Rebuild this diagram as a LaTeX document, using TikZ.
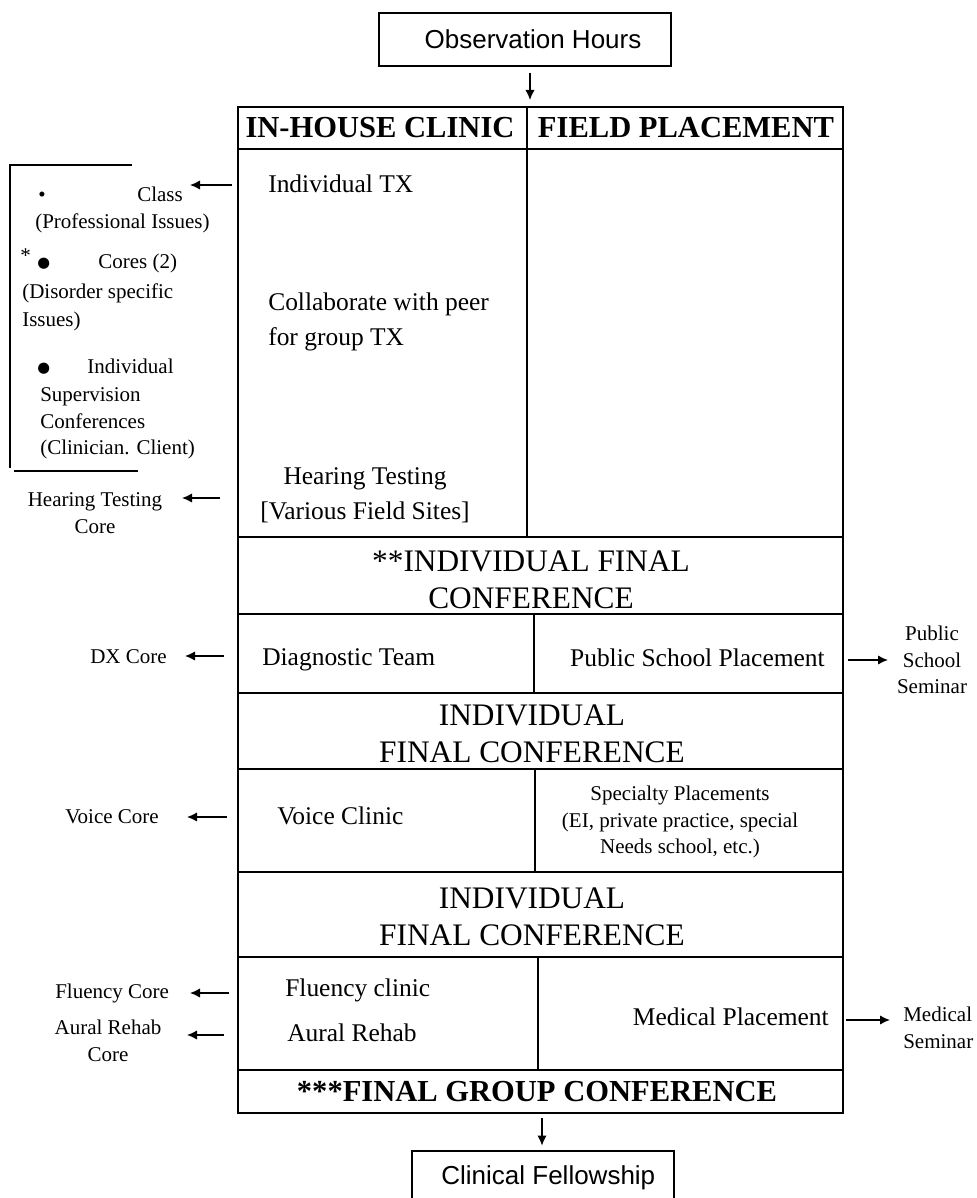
\documentclass[tikz,border=0pt]{standalone}
\usepackage{fontspec}
\setmainfont{Liberation Serif}
\newfontfamily\arialf{Liberation Sans}
\newfontfamily\dejavuf{DejaVu Sans}
\usetikzlibrary{arrows.meta}
\newcommand{\fsmall}{\fontsize{15.75pt}{19.9pt}\selectfont}
\newcommand{\fcell}{\fontsize{19.1pt}{26.25pt}\selectfont}
\newcommand{\fhead}{\fontsize{22.9pt}{27.75pt}\selectfont\bfseries}
\newcommand{\fconf}{\fontsize{23.5pt}{27.75pt}\selectfont}
\newcommand{\fsans}{\arialf\fontsize{19.5pt}{23pt}\selectfont}
\begin{document}
\begin{tikzpicture}[x=0.75pt,y=-0.75pt,
  tline/.style={line width=1.3pt},
  bline/.style={line width=1.1pt},
  arr/.style={line width=1.1pt,-{Latex[length=7.5pt,width=7pt]}},
  lbl/.style={inner sep=0pt},
  small/.style={lbl,font=\fsmall},
  cell/.style={lbl,font=\fcell},
  head/.style={lbl,font=\fhead,align=center},
  conf/.style={lbl,font=\fconf,align=center},
  sbox/.style={draw,line width=1.1pt,inner sep=0pt,font=\fsans}]
\useasboundingbox (0,0) rectangle (976,1198);

% top and bottom boxes
\node[sbox,minimum width=219pt,minimum height=39.75pt] (obs) at (525,39.5) {\hspace*{12pt}Observation Hours};
\node[sbox,minimum width=196.5pt,minimum height=40.5pt] (clin) at (543,1178) {\hspace*{8pt}Clinical Fellowship};

% table
\coordinate (ttop) at (530,107);
\coordinate (tbot) at (542,1113);
\draw[tline] (238,107) rectangle (843,1113);
\draw[tline] (238,149) -- (843,149);
\draw[tline] (238,537) -- (843,537);
\draw[tline] (238,614) -- (843,614);
\draw[tline] (238,693) -- (843,693);
\draw[tline] (238,769) -- (843,769);
\draw[tline] (238,872) -- (843,872);
\draw[tline] (238,957) -- (843,957);
\draw[tline] (238,1070) -- (843,1070);
\draw[tline] (527,107) -- (527,537);
\draw[tline] (534,614) -- (534,693);
\draw[tline] (535,769) -- (535,872);
\draw[tline] (538,957) -- (538,1070);

\draw[arr,shorten <=4.5pt,shorten >=5.25pt] (obs.south -| ttop) -- (ttop);
\draw[arr,shorten <=3.5pt,shorten >=3.5pt] (tbot) -- (clin.north -| tbot);

% header texts
\node[head] (hin) at (380,128) {IN-HOUSE CLINIC};
\node[head] (hfp) at (686,128) {FIELD PLACEMENT};
\node[conf] (hc1) at (531,580) {**INDIVIDUAL FINAL\\CONFERENCE};
\node[conf] (hc2) at (532,734) {INDIVIDUAL\\FINAL CONFERENCE};
\node[conf] (hc3) at (532,917) {INDIVIDUAL\\FINAL CONFERENCE};
\node[head] (hc4) at (537,1092) {***FINAL GROUP CONFERENCE};

% cell texts
\node[cell,anchor=mid west] (itx) at (268,189) {Individual TX};
\node[cell,anchor=west,align=left] (collab) at (268,322) {Collaborate with peer\\for group TX};
\node[cell,align=center] (hear) at (365,495) {Hearing Testing\\{[}Various Field Sites{]}};
\node[cell,anchor=mid west] (diag) at (262,662) {Diagnostic Team};
\node[cell,anchor=mid east] (psp) at (825,663) {Public School Placement};
\node[cell,anchor=mid west] (voice) at (277,821) {Voice Clinic};
\node[small,align=center] (spec) at (680,822) {Specialty Placements\\(EI, private practice, special\\Needs school, etc.)};
\node[cell,anchor=mid west] (flu) at (285,993) {Fluency clinic};
\node[cell,anchor=mid west] (aur) at (287,1038) {Aural Rehab};
\node[cell,anchor=mid east] (med) at (829,1022) {Medical Placement};

% left bracket
\draw[bline] (132,165) -- (10,165) -- (10,468);
\draw[bline] (14,471) -- (138,471);
\node[small,anchor=mid west] (bu1) at (38,198) {\textbullet};
\node[small,anchor=mid west] (cls) at (137,198) {Class};
\node[small,anchor=mid west] (pis) at (35,225) {(Professional Issues)};
\node[small,anchor=mid west] (star) at (20,259) {*};
\node[lbl,anchor=mid west,font=\dejavuf\fontsize{11pt}{13pt}\selectfont] (bu2) at (37,264) {●};
\node[small,anchor=mid west] (cores) at (98,265) {Cores (2)};
\node[small,anchor=mid west] (dis) at (22,295) {(Disorder specific};
\node[small,anchor=mid west] (iss) at (22,323) {Issues)};
\node[lbl,anchor=mid west,font=\dejavuf\fontsize{11pt}{13pt}\selectfont] (bu3) at (37,369) {●};
\node[small,anchor=mid west] (indv) at (87,370) {Individual};
\node[small,anchor=mid west] (sup) at (40,398) {Supervision};
\node[small,anchor=mid west] (conf) at (40,425) {Conferences};
\node[small,anchor=mid west] (clcl) at (40,451) {(Clinician. Client)};

% left annotations
\node[small,align=center] (htc) at (95,513) {Hearing Testing\\Core};
\node[small,anchor=mid east] (dx) at (167,660) {DX Core};
\node[small,anchor=mid west] (vc) at (65,820) {Voice Core};
\node[small,anchor=mid west] (fc) at (55,995) {Fluency Core};
\node[small,align=center] (arc) at (108,1041) {Aural Rehab\\Core};

% right annotations
\node[small,align=center] (pss) at (932,660) {Public\\School\\Seminar};
\node[small,anchor=west,align=left] (msm) at (903,1028) {Medical\\Seminar};

% arrows
\coordinate (a1s) at (232,185); \coordinate (a1e) at (190,185);
\coordinate (a2s) at (220,498); \coordinate (a2e) at (182,498);
\coordinate (a3s) at (224,656); \coordinate (a3e) at (185,656);
\coordinate (a4s) at (227,817); \coordinate (a4e) at (187,817);
\coordinate (a5s) at (229,993); \coordinate (a5e) at (190,993);
\coordinate (a6s) at (224,1035); \coordinate (a6e) at (187,1035);
\coordinate (a7s) at (848,660); \coordinate (a7e) at (888,660);
\coordinate (a8s) at (846,1020); \coordinate (a8e) at (890,1020);
\draw[arr] (a1s) -- (a1e);
\draw[arr] (a2s) -- (a2e);
\draw[arr] (a3s) -- (a3e);
\draw[arr] (a4s) -- (a4e);
\draw[arr] (a5s) -- (a5e);
\draw[arr] (a6s) -- (a6e);
\draw[arr] (a7s) -- (a7e);
\draw[arr] (a8s) -- (a8e);
\end{tikzpicture}
\end{document}
